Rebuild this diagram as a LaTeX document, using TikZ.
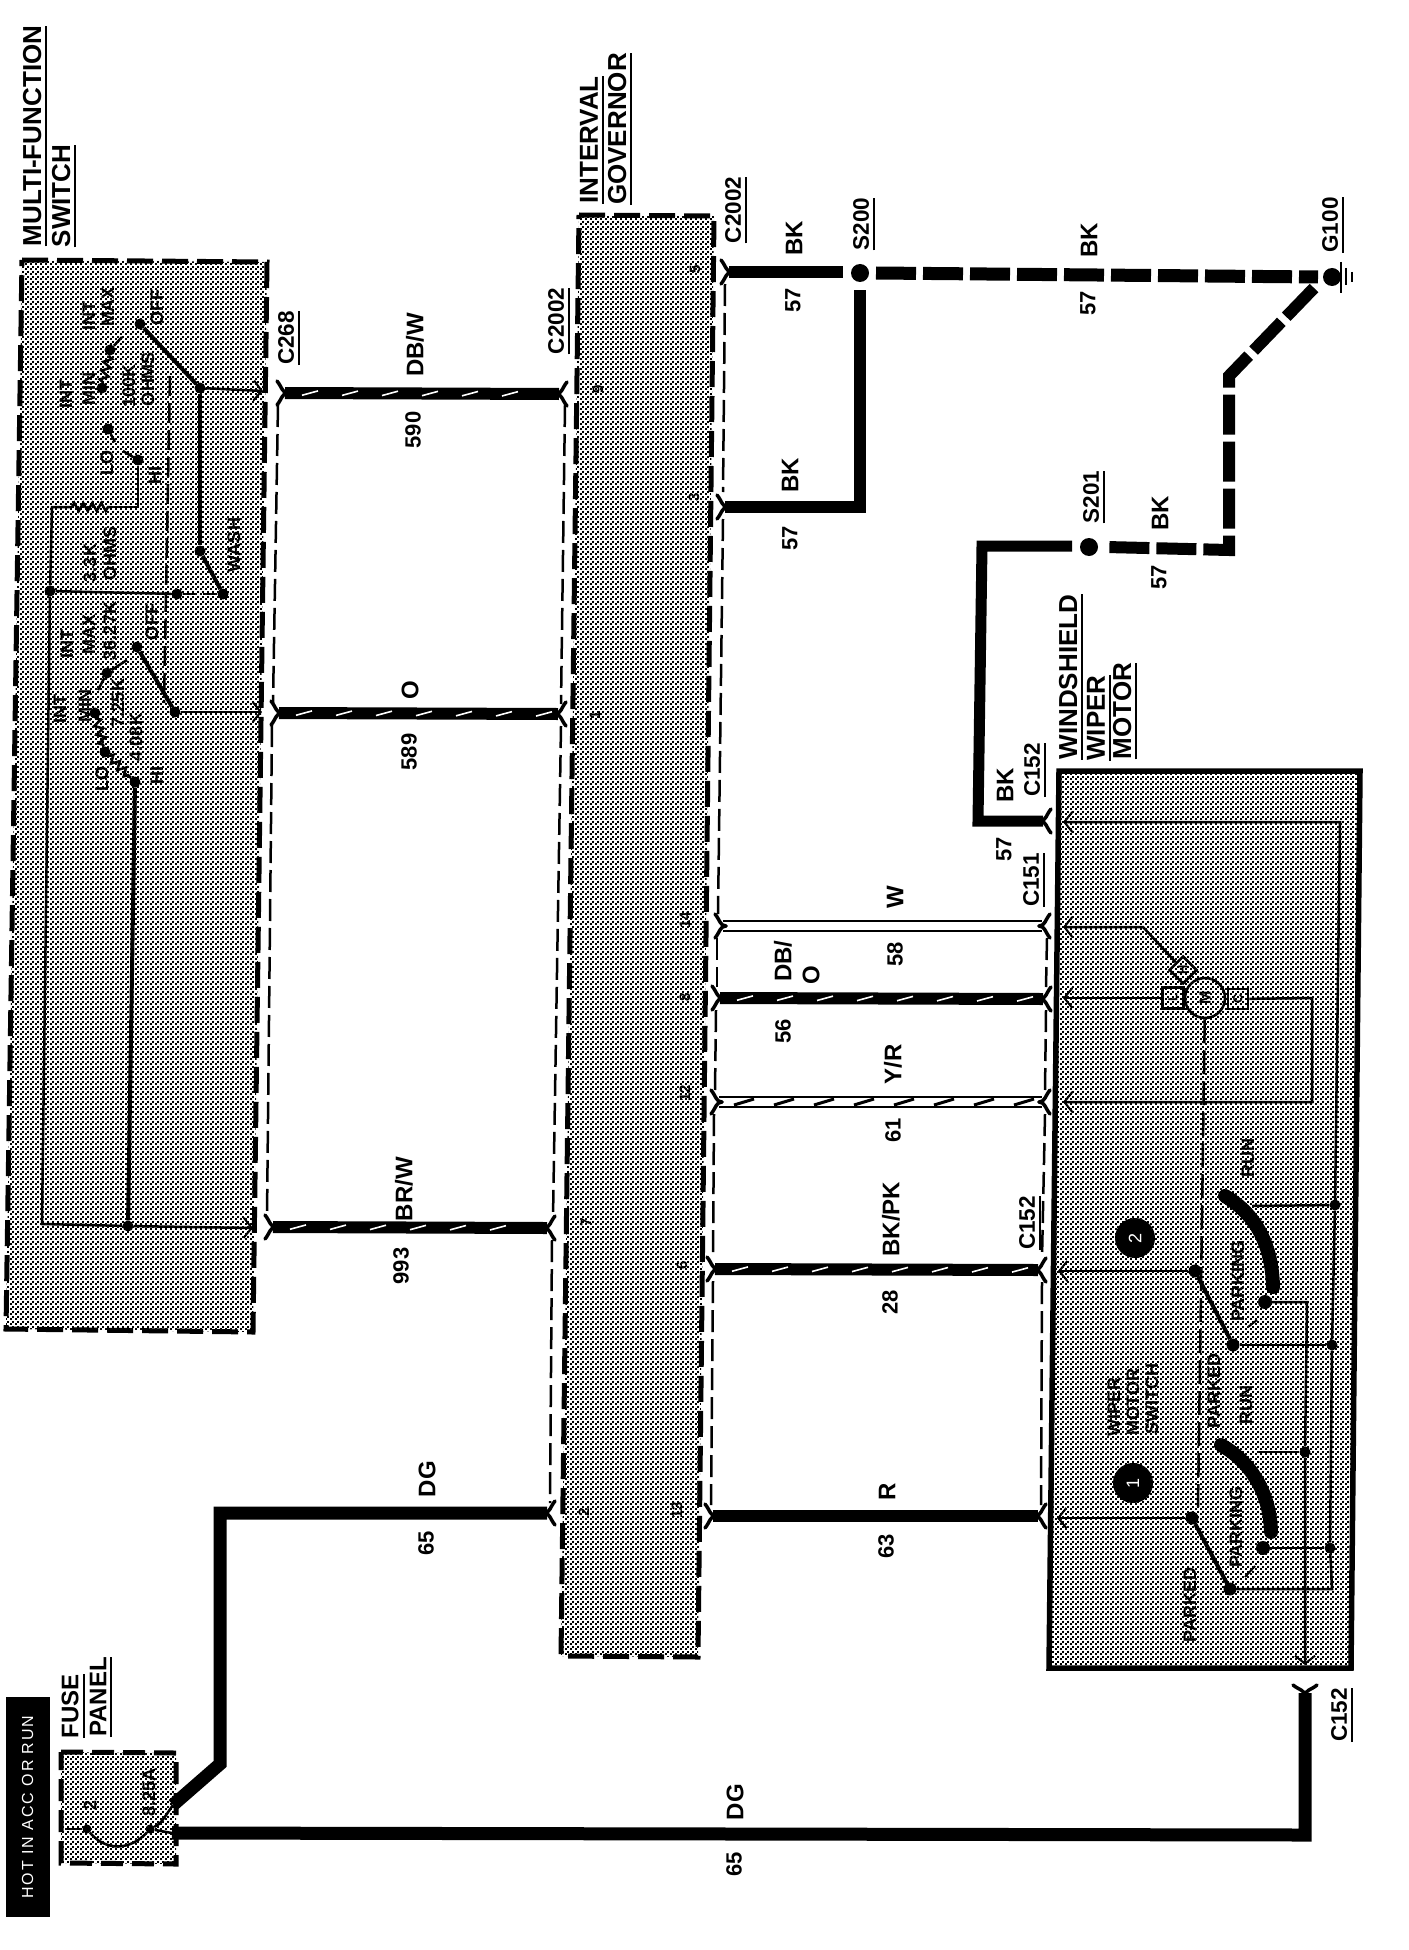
\documentclass[tikz,border=0pt]{standalone}
\usepackage{fontspec}
\setmainfont{Liberation Sans}
\usetikzlibrary{arrows.meta,patterns,shapes.geometric,decorations.pathmorphing,decorations.markings}

\pgfdeclarepatternformonly{halftone}{\pgfpointorigin}{\pgfqpoint{5pt}{5pt}}{\pgfqpoint{5pt}{5pt}}{
  \pgfpathrectangle{\pgfqpoint{0pt}{0pt}}{\pgfqpoint{2.2pt}{2.2pt}}
  \pgfpathrectangle{\pgfqpoint{2.5pt}{2.5pt}}{\pgfqpoint{2.2pt}{2.2pt}}
  \pgfusepath{fill}}

\tikzset{
  shaded/.style = {pattern=halftone, pattern color=black},
  dashbox/.style = {shaded, draw, line width=5pt, dash pattern=on 26pt off 9pt},
  wire/.style = {draw, line width=12pt, line join=miter},
  striped/.style = {draw, line width=12pt, postaction={decorate, decoration={markings,
    mark=between positions 25pt and -10pt step 40pt with {\draw[white, line width=1.6pt] (-8,2.2) -- (8,-2.2);}}}},
  bkdash/.style = {draw, line width=13pt, dash pattern=on 40pt off 7pt},
  rails/.style = {draw, line width=2.5pt, double=white, double distance=7.5pt},
  slash/.style = {decorate, decoration={markings,
    mark=between positions 25pt and -10pt step 40pt with {\draw[line width=3pt] (-10,3) -- (10,-3);}}},
  harness/.style = {draw, line width=2.5pt, dash pattern=on 22pt off 7pt},
  thinw/.style = {draw, line width=2.5pt},
  armw/.style = {draw, line width=4pt},
  sense/.style = {thinw, -{Straight Barb[length=8pt,width=20pt,line width=2pt]}},
  resistor/.style = {draw, line width=2.5pt, decorate, decoration={zigzag, segment length=9pt, amplitude=4pt}},
  contact/.style = {draw, line width=14pt, line cap=round},
  dot/.style = {circle, fill=black, inner sep=0pt, minimum size=11pt},
  splice/.style = {circle, fill=black, inner sep=0pt, minimum size=18pt},
  badge/.style = {circle, fill=black, text=white, inner sep=0pt, minimum size=40pt, rotate=90, font=\fontsize{18}{18}\selectfont},
  ulabel/.style = {rotate=90, inner xsep=0pt, inner ysep=5pt, text depth=0pt,
    append after command={(\tikzlastnode.south west) edge[draw, line width=2pt] (\tikzlastnode.south east)}},
  title/.style = {ulabel, font=\fontsize{26}{26}\selectfont\bfseries},
  conn/.style = {ulabel, font=\fontsize{22.5}{22.5}\selectfont\bfseries},
  colour/.style = {rotate=90, inner sep=0pt, font=\fontsize{24}{24}\selectfont\bfseries},
  number/.style = {rotate=90, inner sep=0pt, font=\fontsize{22}{22}\selectfont\bfseries},
  small/.style = {rotate=90, inner sep=0pt, font=\fontsize{18}{18}\selectfont\bfseries},
  pin/.style = {rotate=90, inner sep=0pt, font=\fontsize{15}{15}\selectfont\bfseries},
  fork/.pic = {
    \draw[line width=3.5pt, line cap=round] (-3,0) .. controls (3,0) and (3,-6) .. (8,-12);
    \draw[line width=3.5pt, line cap=round] (-3,0) .. controls (3,0) and (3,6) .. (8,12);
  }
}

\begin{document}
\begin{tikzpicture}[x=1pt, y=-1pt]
\useasboundingbox (0,0) rectangle (1408,1950);

%boxes
\path[dashbox] (22,260) -- (267,262) -- (253,1332) -- (6,1329) -- cycle;
\path[dashbox] (579,215) -- (714,216) -- (698,1657) -- (561,1656) -- cycle;
\path[dashbox, dash pattern=on 22pt off 9pt] (61,1752) -- (176,1753) -- (176,1864) -- (61,1863) -- cycle;
\path[shaded, draw, line width=5.5pt] (1059,771) -- (1360,771) -- (1351,1668) -- (1049,1668) -- cycle;
\node[fill=black, text=white, rotate=90, minimum width=220pt, minimum height=44pt, inner sep=0pt, font=\fontsize{16}{16}\selectfont\addfontfeature{LetterSpace=12}] (hot) at (27.5,1807) {HOT IN ACC OR RUN};

%titles
\node[title] (tMulti) at (32,136) {MULTI-FUNCTION};
\node[title] (tSwitch) at (61,196) {SWITCH};
\node[title] (tInterval) at (589,140) {INTERVAL};
\node[title] (tGovernor) at (617,129) {GOVERNOR};
\node[title] (tWind) at (1068,677) {WINDSHIELD};
\node[title] (tWiper) at (1096,718) {WIPER};
\node[title] (tMotor) at (1122,711) {MOTOR};
\node[title, font=\fontsize{24}{24}\selectfont\bfseries] (tFuse) at (70,1706) {FUSE};
\node[title, font=\fontsize{24}{24}\selectfont\bfseries] (tPanel) at (98,1697) {PANEL};

%connector names
\node[conn] (nC268) at (286,338) {C268};
\node[conn] (nC2002a) at (556,321) {C2002};
\node[conn] (nC2002b) at (733,210) {C2002};
\node[conn] (nS200) at (861,224) {S200};
\node[conn] (nG100) at (1330,225) {G100};
\node[conn] (nS201) at (1091,497) {S201};
\node[conn] (nC152a) at (1032,770) {C152};
\node[conn] (nC151) at (1031,880) {C151};
\node[conn] (nC152b) at (1027,1223) {C152};
\node[conn] (nC152c) at (1339,1715) {C152};

%wire ends
\coordinate (w590a) at (285,393);  \coordinate (w590b) at (559,394);
\coordinate (w589a) at (279,713);  \coordinate (w589b) at (558,714);
\coordinate (w993a) at (273,1227); \coordinate (w993b) at (547,1228);
\coordinate (w65a) at (547,1513);
\coordinate (w57a) at (729,272);   \coordinate (w57b) at (725,507);
\coordinate (w57c) at (1043,821);
\coordinate (w58a) at (723,926);   \coordinate (w58b) at (1042,926);
\coordinate (w56a) at (720,998);   \coordinate (w56b) at (1043,999);
\coordinate (w61a) at (719,1102);  \coordinate (w61b) at (1042,1102);
\coordinate (w28a) at (715,1269);  \coordinate (w28b) at (1038,1270);
\coordinate (w63a) at (713,1516);  \coordinate (w63b) at (1038,1516);
\coordinate (w65b) at (1305,1693);
\coordinate (fuseOut) at (173,1805);
\coordinate (fuseRet) at (172,1833);

%splices
\node[splice] (s200) at (860,273) {};
\node[splice] (s201) at (1089,547) {};
\node[splice] (g100) at (1332,277) {};
\coordinate (s200W) at (843,272);
\coordinate (s200S) at (860,290);
\coordinate (s200E) at (876,273);
\coordinate (s201W) at (1072,546);
\coordinate (s201E) at (1106,547);
\coordinate (g100W) at (1318,277);
\coordinate (g100S) at (1314,288);

%wires
\path[striped] (w590a) -- (w590b);
\path[striped] (w589a) -- (w589b);
\path[striped] (w993a) -- (w993b);
\path[wire, line width=13pt] (w65a) -- (220,1513) -- (220,1764) -- (fuseOut);
\path[wire, line width=13pt] (fuseRet) -- (1305,1835) -- (w65b);
\path[wire] (w57a) -- (s200W);
\path[wire] (w57b) -- (860,507) -- (s200S);
\path[bkdash] (s200E) -- (g100W);
\path[bkdash, line width=12pt] (g100S) -- (1229,376) -- (1229,550) -- (s201E);
\path[wire, line width=11pt] (s201W) -- (982,546) -- (978,821) -- (w57c);
\path[rails] (w58a) -- (w58b);
\path[striped] (w56a) -- (w56b);
\path[rails] (w61a) -- (w61b);
\path[slash] (w61a) -- (w61b);
\path[striped] (w28a) -- (w28b);
\path[wire] (w63a) -- (w63b);

%forks
\foreach \n in {w590a,w589a,w993a,w58a,w56a,w61a,w28a,w63a,w57a,w57b}
  \pic[rotate=180] at (\n) {fork};
\foreach \n in {w590b,w589b,w993b,w65a,w58b,w56b,w61b,w28b,w63b,w57c}
  \pic at (\n) {fork};
\pic[rotate=90] at (w65b) {fork};

%harness lines
\path[harness] (278,405) -- (273,703);
\path[harness] (272,725) -- (267,1217);
\path[harness] (565,405) -- (561,704);
\path[harness] (561,726) -- (553,1218);
\path[harness] (552,1240) -- (550,1503);
\path[harness] (725,284) -- (723,492);
\path[harness] (723,519) -- (718,914);
\path[harness] (717,938) -- (717,987);
\path[harness] (716,1010) -- (715,1091);
\path[harness] (714,1114) -- (713,1258);
\path[harness] (713,1281) -- (711,1505);
\path[harness] (1047,938) -- (1046,987);
\path[harness] (1046,1010) -- (1045,1091);
\path[harness] (1045,1114) -- (1042,1258);
\path[harness] (1042,1282) -- (1041,1505);

%ground
\coordinate (gnd1a) at (1341,262); \coordinate (gnd1b) at (1341,293);
\coordinate (gnd2a) at (1346,268); \coordinate (gnd2b) at (1346,285);
\coordinate (gnd3a) at (1352,272); \coordinate (gnd3b) at (1352,282);
\draw[line width=2.5pt] (gnd1a) -- (gnd1b);
\draw[line width=2.5pt] (gnd2a) -- (gnd2b);
\draw[line width=2.5pt] (gnd3a) -- (gnd3b);

%wire labels
\node[colour] at (415,345) {DB/W};
\node[number] at (413,430) {590};
\node[colour] at (410,690) {O};
\node[number] at (409,752) {589};
\node[colour] at (404,1189) {BR/W};
\node[number] at (401,1266) {993};
\node[colour] at (427,1479) {DG};
\node[number] at (426,1543) {65};
\node[colour] at (735,1802) {DG};
\node[number] at (734,1864) {65};
\node[colour] at (887,1492) {R};
\node[number] at (886,1546) {63};
\node[colour] at (891,1219) {BK/PK};
\node[number] at (890,1302) {28};
\node[colour] at (893,1064) {Y/R};
\node[number] at (893,1130) {61};
\node[colour] at (895,897) {W};
\node[number] at (895,954) {58};
\node[colour] at (783,961) {DB/};
\node[colour] at (811,975) {O};
\node[number] at (783,1031) {56};
\node[colour] at (794,238) {BK};
\node[number] at (793,300) {57};
\node[colour] at (790,475) {BK};
\node[number] at (790,538) {57};
\node[colour] at (1089,240) {BK};
\node[number] at (1088,303) {57};
\node[colour] at (1160,513) {BK};
\node[number] at (1159,577) {57};
\node[colour] at (1005,785) {BK};
\node[number] at (1004,849) {57};

%governor pins
\node[pin] at (598,389) {9};
\node[pin] at (595,715) {1};
\node[pin] at (695,269) {5};
\node[pin] at (694,497) {3};
\node[pin] at (685,920) {14};
\node[pin] at (685,997) {8};
\node[pin] at (685,1093) {12};
\node[pin] at (586,1222) {7};
\node[pin] at (682,1265) {6};
\node[pin] at (584,1512) {2};
\node[pin] at (677,1510) {13};

%fuse
\node[dot, minimum size=9pt] (fuseA) at (87,1829) {};
\node[dot, minimum size=9pt] (fuseB) at (150,1829) {};
\coordinate (fuseL) at (65,1829);
\draw[line width=2.5pt] (fuseL) -- (fuseA);
\draw[line width=2.5pt] (fuseA) .. controls (105,1851) and (130,1851) .. (fuseB);
\draw[line width=2.5pt] (fuseB) .. controls (160,1824) .. (fuseOut);
\draw[line width=2.5pt] (fuseB) -- (fuseRet);
\node[pin, font=\fontsize{18}{18}\selectfont\bfseries] at (90,1805) {2};
\node[pin, font=\fontsize{18}{18}\selectfont\bfseries] at (149,1792) {8.25A};

%upper switch
\node[dot] (uMax) at (110,350) {};
\node[dot] (uMin) at (102,388) {};
\node[dot] (uLo) at (108,429) {};
\node[dot] (uHi) at (138,460) {};
\node[dot] (uOff) at (140,324) {};
\node[dot] (uJoin) at (200,388) {};
\node[dot] (uWashA) at (200,551) {};
\node[dot] (uWashB) at (223,594) {};
\node[dot] (uRail) at (50,591) {};
\node[dot] (uTap) at (177,594) {};
\coordinate (uOut) at (263,391);
\coordinate (rA) at (72,507);
\coordinate (rB) at (112,507);
\coordinate (uStubA) at (122,337);
\coordinate (uStubB) at (115,442);
\coordinate (uStubC) at (123,451);
\path[resistor] (uMin) -- (uMax);
\path[resistor] (rA) -- (rB);
\path[thinw] (uMax) -- (uStubA);
\path[thinw] (uLo) -- (uStubB);
\path[thinw] (uHi) -- (uStubC);
\path[armw] (uOff) -- (uJoin);
\path[sense] (uJoin) -- (uOut);
\path[armw] (uJoin) -- (uWashA);
\path[armw] (uWashA) -- (uWashB);
\path[thinw] (uRail) -- (uTap);
\path[harness, dash pattern=on 12pt off 8pt] (uTap) -- (uWashB);
\path[thinw] (rB) -- (138,507) -- (uHi);

%lower switch
\node[dot] (lOff) at (137,647) {};
\node[dot] (lJoin) at (175,712) {};
\node[dot] (lMax) at (107,673) {};
\node[dot] (lMin) at (95,713) {};
\node[dot] (lLo) at (105,752) {};
\node[dot] (lHi) at (135,782) {};
\node[dot] (lTie) at (128,1226) {};
\coordinate (lOut) at (262,712);
\coordinate (lTieOut) at (253,1228);
\coordinate (lStubA) at (98,690);
\coordinate (lStubB) at (127,660);
\path[resistor] (lMin) -- (lLo);
\path[resistor] (lLo) -- (lHi);
\path[armw] (lOff) -- (lJoin);
\path[sense] (lJoin) -- (lOut);
\path[thinw] (lMax) -- (lStubA);
\path[thinw] (lMax) -- (lStubB);
\path[armw] (lHi) -- (lTie);
\path[sense] (lTie) -- (lTieOut);
\path[thinw] (rA) -- (52,507) -- (uRail) -- (42,1224) -- (lTie);
\path[harness, dash pattern=on 20pt off 7pt] (170,376) -- (164,703);

%switch labels
\node[small] at (66,394) {INT};
\node[small] at (89,389) {MIN};
\node[small] at (89,316) {INT};
\node[small] at (108,307) {MAX};
\node[small] at (129,386) {100K};
\node[small] at (148,379) {OHMS};
\node[small] at (157,308) {OFF};
\node[small] at (107,463) {LO};
\node[small] at (155,475) {HI};
\node[small] at (90,563) {3.3K};
\node[small] at (110,553) {OHMS};
\node[small] at (234,545) {WASH};
\node[small] at (67,644) {INT};
\node[small] at (89,634) {MAX};
\node[small] at (60,709) {INT};
\node[small] at (85,706) {MIN};
\node[small] at (110,631) {36.27K};
\node[small] at (118,703) {7.25K};
\node[small] at (136,737) {4.08K};
\node[small] at (152,622) {OFF};
\node[small] at (102,779) {LO};
\node[small] at (157,775) {HI};

%motor
\node[draw, circle, line width=2.5pt, minimum size=40pt, inner sep=0pt, rotate=90, font=\fontsize{16}{16}\selectfont\bfseries] (motor) at (1205,998) {M};
\node[draw, line width=2.5pt, minimum size=21pt, inner sep=0pt, rotate=90, font=\fontsize{13}{13}\selectfont\bfseries] (brushL) at (1173,998) {L};
\node[draw, line width=2.5pt, minimum size=20pt, inner sep=0pt, rotate=90, font=\fontsize{13}{13}\selectfont\bfseries] (brushC) at (1238,999) {C};
\node[draw, diamond, aspect=1, line width=2.5pt, minimum size=28pt, inner sep=0pt, rotate=90, font=\fontsize{13}{13}\selectfont\bfseries] (brushH) at (1183,970) {H};
\coordinate (inK) at (1063,822);
\coordinate (inW) at (1063,927);
\coordinate (inO) at (1063,998);
\coordinate (inY) at (1063,1102);
\path[sense] (1335,1205) -- (1340,822) -- (inK);
\path[sense] (brushH) -- (1143,927) -- (inW);
\path[sense] (brushL) -- (inO);
\path[sense] (brushC) -- (1312,998) -- (1312,1102) -- (inY);

%wiper motor switch
\node[dot] (dRun2) at (1335,1205) {};
\node[dot, minimum size=13pt] (arm2a) at (1195,1271) {};
\node[dot, minimum size=13pt] (arm2b) at (1233,1345) {};
\node[dot] (dPark2) at (1332,1345) {};
\node[dot, minimum size=14pt] (con2) at (1265,1302) {};
\node[dot] (dRun1) at (1305,1452) {};
\node[dot, minimum size=13pt] (arm1a) at (1192,1518) {};
\node[dot, minimum size=13pt] (arm1b) at (1230,1589) {};
\node[dot] (dPark1) at (1330,1548) {};
\node[dot, minimum size=14pt] (con1) at (1263,1548) {};
\coordinate (in2) at (1058,1271);
\coordinate (in1) at (1057,1518);
\coordinate (outK) at (1305,1665);
\coordinate (bar2a) at (1225,1196);
\coordinate (bar2b) at (1273,1287);
\coordinate (bar1a) at (1221,1445);
\coordinate (bar1b) at (1271,1532);
\path[contact] (bar2a) .. controls (1252,1212) and (1272,1240) .. (bar2b);
\path[contact] (bar1a) .. controls (1248,1460) and (1270,1490) .. (bar1b);
\path[sense] (arm2a) -- (in2);
\path[armw] (arm2a) -- (arm2b);
\path[sense] (arm1a) -- (in1);
\path[armw] (arm1a) -- (arm1b);
\path[thinw] (arm2b) -- (dPark2);
\path[thinw] (dRun2) -- (1252,1206);
\path[thinw] (dRun2) -- (dPark2) -- (dPark1) -- (1332,1589) -- (arm1b);
\path[thinw] (con1) -- (dPark1);
\path[thinw] (dRun1) -- (1257,1452);
\path[sense] (con2) -- (1307,1302) -- (dRun1) -- (outK);
\path[harness, dash pattern=on 24pt off 7pt] (motor) -- (1198,1507);
\coordinate (tick2a) at (1248,1327); \coordinate (tick2b) at (1257,1320);
\coordinate (tick1a) at (1245,1577); \coordinate (tick1b) at (1255,1566);
\draw[line width=2pt] (tick2a) -- (tick2b);
\draw[line width=2pt] (tick1a) -- (tick1b);
\node[badge] (badge2) at (1135,1238) {2};
\node[badge] (badge1) at (1133,1483) {1};
\node[small] at (1114,1407) {WIPER};
\node[small] at (1133,1402) {MOTOR};
\node[small] at (1152,1399) {SWITCH};
\node[small] at (1190,1605) {PARKED};
\node[small] at (1214,1391) {PARKED};
\node[small] at (1248,1158) {RUN};
\node[small] at (1246,1405) {RUN};
\node[small] at (1238,1281) {PARKING};
\node[small] at (1236,1527) {PARKING};
\end{tikzpicture}
\end{document}
